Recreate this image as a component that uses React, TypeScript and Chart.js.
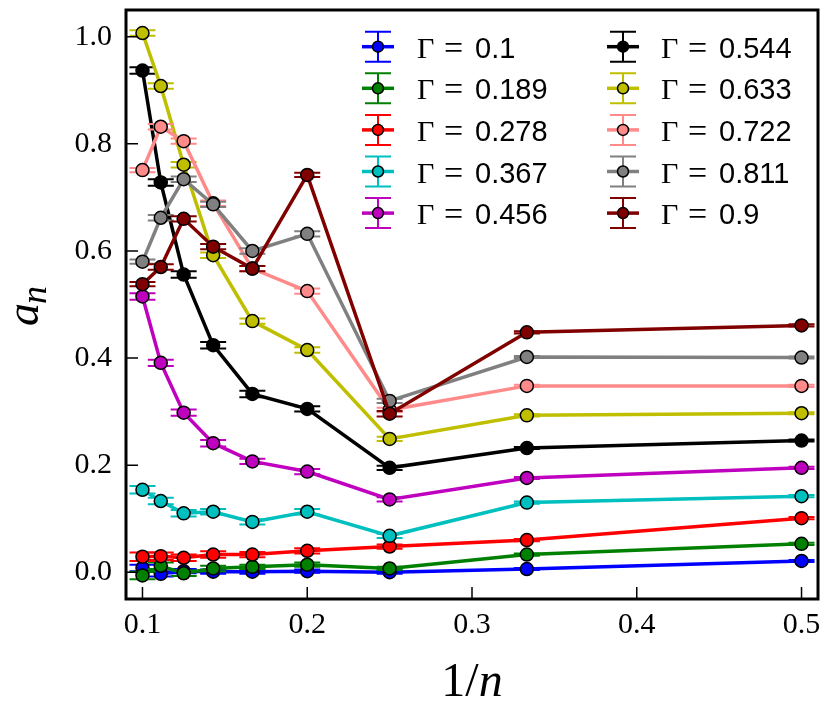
import React, { useEffect, useRef } from 'react';
import { Chart, registerables } from 'chart.js';

Chart.register(...registerables);

// 1/n for n = 10, 9, 8, 7, 6, 5, 4, 3, 2
const xValues = [0.1, 0.1111, 0.125, 0.1429, 0.1667, 0.2, 0.25, 0.3333, 0.5];

const gammaLabels = ['0.1', '0.189', '0.278', '0.367', '0.456', '0.544', '0.633', '0.722', '0.811', '0.9'];

const colors = ['#0000ff', '#008000', '#ff0000', '#00bfbf', '#bf00bf', '#000000', '#bfbf00', '#ff8a8a', '#808080', '#800000'];

const g010 = [0.008, -0.003, 0.002, 0.001, 0.001, 0.002, 0.000, 0.006, 0.021];
const g0189 = [-0.006, 0.012, -0.002, 0.007, 0.010, 0.014, 0.007, 0.033, 0.053];
const g0278 = [0.029, 0.030, 0.027, 0.033, 0.033, 0.040, 0.048, 0.060, 0.101];
const g0367 = [0.154, 0.133, 0.110, 0.113, 0.094, 0.113, 0.068, 0.130, 0.142];
const g0456 = [0.515, 0.391, 0.298, 0.241, 0.207, 0.188, 0.136, 0.176, 0.195];
const g0544 = [0.937, 0.728, 0.556, 0.424, 0.333, 0.305, 0.195, 0.232, 0.246];
const g0633 = [1.007, 0.908, 0.761, 0.592, 0.469, 0.415, 0.249, 0.293, 0.297];
const g0722 = [0.751, 0.832, 0.805, 0.689, 0.567, 0.525, 0.303, 0.348, 0.348];
const g0811 = [0.580, 0.662, 0.734, 0.687, 0.600, 0.632, 0.320, 0.402, 0.401];
const g090 = [0.538, 0.570, 0.660, 0.608, 0.567, 0.742, 0.296, 0.448, 0.461];

const e010 = [0.006, 0.005, 0.004, 0.004, 0.004, 0.003, 0.003, 0.002, 0.002];
const e0189 = [0.007, 0.006, 0.005, 0.005, 0.004, 0.004, 0.003, 0.002, 0.002];
const e0278 = [0.008, 0.007, 0.006, 0.006, 0.005, 0.005, 0.004, 0.002, 0.002];
const e0367 = [0.007, 0.006, 0.006, 0.005, 0.005, 0.005, 0.004, 0.002, 0.002];
const e0456 = [0.006, 0.006, 0.006, 0.006, 0.005, 0.005, 0.004, 0.002, 0.002];
const e0544 = [0.006, 0.006, 0.006, 0.006, 0.006, 0.005, 0.004, 0.002, 0.002];
const e0633 = [0.005, 0.005, 0.005, 0.005, 0.005, 0.005, 0.004, 0.002, 0.002];
const e0722 = [0.004, 0.005, 0.005, 0.005, 0.005, 0.005, 0.004, 0.002, 0.002];
const e0811 = [0.004, 0.005, 0.005, 0.005, 0.005, 0.005, 0.004, 0.002, 0.002];
const e090 = [0.004, 0.005, 0.005, 0.005, 0.005, 0.004, 0.005, 0.002, 0.002];

const seriesValues = [g010, g0189, g0278, g0367, g0456, g0544, g0633, g0722, g0811, g090];
const seriesErrors = [e010, e0189, e0278, e0367, e0456, e0544, e0633, e0722, e0811, e090];

const xTicks = [0.1, 0.2, 0.3, 0.4, 0.5];
const yTicks = [0.0, 0.2, 0.4, 0.6, 0.8, 1.0];

const SERIF = '"Liberation Serif", "DejaVu Serif", serif';
const SANS = '"Liberation Sans", Arial, sans-serif';

const CAP = 13;
const MARKER_R = 6.5;

const errorBarPlugin = {
  id: 'errorBars',
  beforeDatasetDraw(chart: any, args: any) {
    const ds: any = chart.data.datasets[args.index];
    const errs: number[] = ds.errs;
    if (!errs) return;
    const ctx = chart.ctx;
    const xs = chart.scales.x;
    const ys = chart.scales.y;
    ctx.save();
    ctx.beginPath();
    ctx.rect(chart.chartArea.left, chart.chartArea.top, chart.chartArea.right - chart.chartArea.left, chart.chartArea.bottom - chart.chartArea.top);
    ctx.clip();
    ctx.strokeStyle = ds.borderColor;
    ctx.lineWidth = 2;
    ds.data.forEach((p: any, j: number) => {
      const px = xs.getPixelForValue(p.x);
      const top = ys.getPixelForValue(p.y + errs[j]);
      const bot = ys.getPixelForValue(p.y - errs[j]);
      ctx.beginPath();
      ctx.moveTo(px, top);
      ctx.lineTo(px, bot);
      ctx.moveTo(px - CAP, top);
      ctx.lineTo(px + CAP, top);
      ctx.moveTo(px - CAP, bot);
      ctx.lineTo(px + CAP, bot);
      ctx.stroke();
    });
    ctx.restore();
  },
};

const decorPlugin = {
  id: 'decor',
  afterDraw(chart: any) {
    const ctx = chart.ctx;
    const { left, right, top, bottom } = chart.chartArea;
    const xs = chart.scales.x;
    const ys = chart.scales.y;
    ctx.save();
    // inward ticks
    ctx.strokeStyle = '#000';
    ctx.lineWidth = 1.5;
    ctx.beginPath();
    xTicks.forEach((v) => {
      const px = xs.getPixelForValue(v);
      ctx.moveTo(px, bottom);
      ctx.lineTo(px, bottom - 12);
    });
    yTicks.forEach((v) => {
      const py = ys.getPixelForValue(v);
      ctx.moveTo(left, py);
      ctx.lineTo(left + 12, py);
    });
    ctx.stroke();
    // frame
    ctx.lineWidth = 3;
    ctx.strokeRect(left, top, right - left, bottom - top);

    // legend
    const rowY0 = 46.7;
    const rowDy = 41.6;
    const colIcon = [378, 623];
    const colText = [417, 661];
    chart.data.datasets.forEach((ds: any, i: number) => {
      const col = i < 5 ? 0 : 1;
      const row = i % 5;
      const cy = rowY0 + row * rowDy;
      const cx = colIcon[col];
      ctx.strokeStyle = ds.borderColor;
      ctx.lineWidth = 3.5;
      ctx.beginPath();
      ctx.moveTo(cx - 16, cy);
      ctx.lineTo(cx + 16, cy);
      ctx.stroke();
      ctx.lineWidth = 2;
      ctx.beginPath();
      ctx.moveTo(cx, cy - 15);
      ctx.lineTo(cx, cy + 15);
      ctx.moveTo(cx - CAP, cy - 15);
      ctx.lineTo(cx + CAP, cy - 15);
      ctx.moveTo(cx - CAP, cy + 15);
      ctx.lineTo(cx + CAP, cy + 15);
      ctx.stroke();
      ctx.beginPath();
      ctx.arc(cx, cy, 5.5, 0, Math.PI * 2);
      ctx.fillStyle = ds.borderColor;
      ctx.fill();
      ctx.strokeStyle = '#000';
      ctx.lineWidth = 1.5;
      ctx.stroke();

      const tx = colText[col];
      ctx.fillStyle = '#000';
      ctx.textBaseline = 'alphabetic';
      ctx.textAlign = 'left';
      ctx.font = `30px ${SERIF}`;
      ctx.fillText('Γ', tx, cy + 11);
      ctx.font = `34px ${SERIF}`;
      ctx.fillText('=', tx + 27, cy + 12);
      ctx.font = `29px ${SANS}`;
      ctx.fillText(gammaLabels[i], tx + 58, cy + 11);
    });

    // y axis title a_n
    ctx.fillStyle = '#000';
    ctx.save();
    ctx.translate(38, 326);
    ctx.rotate(-Math.PI / 2);
    ctx.textAlign = 'left';
    ctx.textBaseline = 'alphabetic';
    ctx.font = `italic 46px ${SERIF}`;
    ctx.fillText('a', 0, 0);
    const aw = ctx.measureText('a').width;
    ctx.font = `italic 36px ${SERIF}`;
    ctx.fillText('n', aw - 1, 8);
    ctx.restore();

    // x axis title 1/n
    ctx.textBaseline = 'alphabetic';
    ctx.textAlign = 'left';
    ctx.font = `48px ${SERIF}`;
    const w1 = ctx.measureText('1/').width;
    ctx.font = `italic 48px ${SERIF}`;
    const w2 = ctx.measureText('n').width;
    const startX = (left + right) / 2 - (w1 + w2) / 2;
    ctx.font = `48px ${SERIF}`;
    ctx.fillText('1/', startX, 696);
    ctx.font = `italic 48px ${SERIF}`;
    ctx.fillText('n', startX + w1, 696);
    ctx.restore();
  },
};

export default function App() {
  const ref = useRef<HTMLCanvasElement>(null);
  useEffect(() => {
    document.body.style.margin = '0';
    if (!ref.current) return;
    const datasets = seriesValues.map((vals, i) => ({
      label: 'Γ = ' + gammaLabels[i],
      data: vals.map((y, j) => ({ x: xValues[j], y })),
      errs: seriesErrors[i],
      borderColor: colors[i],
      backgroundColor: colors[i],
      pointBackgroundColor: colors[i],
      pointBorderColor: '#000000',
      pointBorderWidth: 1.5,
      pointRadius: MARKER_R,
      pointHoverRadius: MARKER_R,
      borderWidth: 3.5,
      showLine: true,
      fill: false,
      tension: 0,
      order: seriesValues.length - i,
    }));
    const tickFont = { family: SERIF, size: 30 };
    const chart = new Chart(ref.current, {
      type: 'scatter',
      data: { datasets: datasets as any },
      options: {
        animation: false,
        responsive: false,
        devicePixelRatio: 1,
        layout: { padding: { top: 10, right: 12, left: 0, bottom: 0 } },
        plugins: { legend: { display: false }, tooltip: { enabled: false } },
        scales: {
          x: {
            type: 'linear',
            min: 0.09,
            max: 0.51,
            afterBuildTicks: (s: any) => {
              s.ticks = xTicks.map((v) => ({ value: v }));
            },
            afterFit: (s: any) => {
              s.height = 119;
              s.paddingLeft = 0;
              s.paddingRight = 0;
            },
            ticks: {
              font: tickFont,
              color: '#000',
              padding: 8,
              autoSkip: false,
              maxRotation: 0,
              callback: (v: any) => Number(v).toFixed(1),
            },
            grid: { display: false, drawTicks: false },
            border: { display: false },
          },
          y: {
            type: 'linear',
            min: -0.05,
            max: 1.05,
            afterBuildTicks: (s: any) => {
              s.ticks = yTicks.map((v) => ({ value: v }));
            },
            afterFit: (s: any) => {
              s.width = 126;
              s.paddingTop = 0;
              s.paddingBottom = 0;
            },
            ticks: {
              font: tickFont,
              color: '#000',
              padding: 14,
              autoSkip: false,
              callback: (v: any) => Number(v).toFixed(1),
            },
            grid: { display: false, drawTicks: false },
            border: { display: false },
          },
        },
      },
      plugins: [errorBarPlugin, decorPlugin],
    });
    return () => chart.destroy();
  }, []);
  return (
    <div style={{ width: 830, height: 718, background: '#fff' }}>
      <canvas ref={ref} width={830} height={718} style={{ display: 'block' }} />
    </div>
  );
}
